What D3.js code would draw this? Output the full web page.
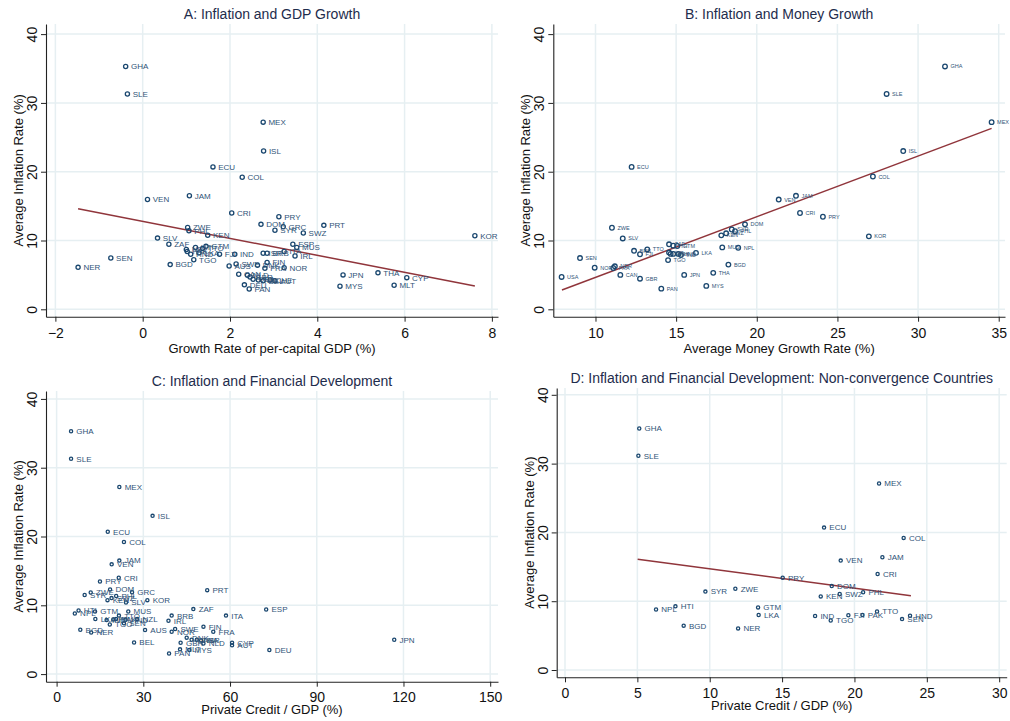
<!DOCTYPE html>
<html><head><meta charset="utf-8">
<script src="https://cdn.jsdelivr.net/npm/d3@7"></script>
<style>body{margin:0;background:#fff} svg{display:block} text{font-family:"Liberation Sans",Arial,sans-serif}</style>
</head><body><svg id="c" width="1010" height="721"></svg>
<script>
// ---------- data ----------
const inflationTicks = [0, 10, 20, 30, 40];
const gdpTicks = [-2, 0, 2, 4, 6, 8];
const moneyTicks = [10, 15, 20, 25, 30, 35];
const creditTicks = [0, 30, 60, 90, 120, 150];
const creditNcTicks = [0, 5, 10, 15, 20, 25, 30];

// [country, x value, average inflation %]
const gdpPoints = [
  ["GHA",-0.39,35.3],["SLE",-0.35,31.3],["MEX",2.76,27.2],["ISL",2.77,23.0],["ECU",1.61,20.7],
  ["COL",2.28,19.2],["JAM",1.07,16.5],["VEN",0.11,15.95],["CRI",2.04,14.0],["PRY",3.12,13.45],
  ["DOM",2.71,12.35],["GRC",3.22,12.0],["PRT",4.15,12.2],["SYR",3.03,11.5],["SWZ",3.68,11.1],
  ["ZWE",1.03,11.9],["PHL",1.06,11.4],["KEN",1.49,10.75],["KOR",7.61,10.7],["SLV",0.34,10.35],
  ["ZAF",0.6,9.45],["ESP",3.44,9.45],["MUS",3.53,9.0],["GTM",1.45,9.15],["HTI",1.21,9.0],
  ["TTO",1.37,8.85],["NPL",1.0,8.7],["PAK",1.02,8.4],["LKA",1.29,8.2],["HND",1.1,8.0],
  ["FJI",1.76,8.0],["IND",2.11,8.0],["TGO",1.17,7.2],["BGD",0.63,6.5],["SEN",-0.73,7.45],
  ["NER",-1.48,6.1],["ISR",2.76,8.15],["BRB",2.85,8.15],["ITA",3.24,8.4],["IRL",3.49,7.75],
  ["FIN",2.85,6.8],["FRA",2.8,5.95],["NOR",3.24,6.05],["DNK",2.63,6.4],["AUS",1.98,6.3],
  ["SWE",2.14,6.6],["CAN",2.2,5.1],["NLD",2.4,4.95],["GBR",2.46,4.7],["USA",2.53,4.35],
  ["NZL",2.65,4.25],["BEL",2.76,4.15],["CHE",2.92,4.25],["AUT",3.03,4.15],["DEU",2.33,3.55],
  ["PAN",2.44,2.95],["JPN",4.59,5.0],["THA",5.39,5.3],["CYP",6.05,4.6],["MLT",5.76,3.5],
  ["MYS",4.52,3.35]
];
const moneyPoints = [
  ["GHA",31.67,35.3],["SLE",28.05,31.3],["MEX",34.56,27.2],["ISL",29.08,23.0],["ECU",12.24,20.7],
  ["COL",27.2,19.3],["JAM",22.43,16.5],["VEN",21.36,15.95],["CRI",22.68,14.0],["PRY",24.1,13.45],
  ["KOR",26.95,10.6],["DOM",19.27,12.35],["SYR",18.45,11.6],["PHL",18.65,11.35],["SWZ",18.1,11.05],
  ["KEN",17.8,10.75],["ZWE",11.02,11.85],["SLV",11.69,10.3],["ZAF",14.56,9.45],["HTI",14.82,9.25],
  ["GTM",15.07,9.2],["MUS",17.86,9.0],["NPL",18.85,8.95],["BRB",12.39,8.5],["FJI",12.76,8.0],
  ["TTO",13.21,8.7],["ISR",14.56,8.25],["IRL",14.66,8.05],["PAK",14.82,8.05],["HND",15.14,8.05],
  ["IND",15.3,7.9],["LKA",16.23,8.2],["TGO",14.5,7.15],["SEN",9.04,7.45],["NOR",9.95,6.05],
  ["NER",11.2,6.25],["FRA",11.1,6.0],["CAN",11.54,5.0],["GBR",12.76,4.45],["USA",7.9,4.7],
  ["PAN",14.08,3.0],["JPN",15.5,5.0],["THA",17.3,5.3],["MYS",16.87,3.4],["BGD",18.24,6.5]
];
const creditPoints = [
  ["GHA",5.0,35.3],["SLE",5.0,31.3],["MEX",21.7,27.2],["ISL",33.2,23.0],["ECU",17.7,20.7],
  ["COL",23.3,19.2],["JAM",21.7,16.5],["VEN",19.05,15.95],["CRI",21.5,14.0],["PRY",15.0,13.45],
  ["DOM",18.5,12.3],["GRC",26.1,11.9],["SYR",9.7,11.5],["ZWE",11.8,11.85],["PHL",20.6,11.35],
  ["KEN",17.6,10.75],["SWZ",19.0,11.05],["SLV",24.0,10.4],["KOR",31.4,10.75],["PRT",52.1,12.2],
  ["ZAF",47.3,9.45],["ESP",72.5,9.4],["ITA",58.6,8.5],["BRB",39.8,8.5],["IRL",38.7,7.75],
  ["NPL",6.3,8.8],["HTI",7.6,9.25],["GTM",13.3,9.1],["LKA",13.4,8.0],["MUS",24.8,9.1],
  ["TTO",21.56,8.5],["IND",17.3,7.85],["FJI",19.6,7.95],["PAK",20.55,8.0],["HND",23.8,7.9],
  ["NZL",27.9,8.0],["TGO",18.4,7.2],["SEN",23.3,7.4],["BGD",8.2,6.45],["NER",11.96,6.05],
  ["AUS",30.6,6.4],["SWE",41.0,6.55],["NOR",39.8,6.15],["FIN",50.8,6.9],["FRA",54.2,6.15],
  ["DNK",45.0,5.3],["CAN",46.7,5.0],["THA",48.5,5.0],["ISR",50.0,4.9],["GBR",42.9,4.55],
  ["NLD",50.8,4.45],["CYP",60.7,4.55],["AUT",60.7,4.2],["BEL",26.8,4.6],["MLT",42.7,3.6],
  ["MYS",45.9,3.5],["PAN",38.9,3.0],["DEU",73.6,3.5],["JPN",116.8,5.0]
];
const creditNcPoints = [
  ["GHA",5.13,35.1],["SLE",5.07,31.15],["MEX",21.7,27.1],["ECU",17.9,20.7],["COL",23.4,19.2],
  ["JAM",21.93,16.4],["VEN",19.05,15.9],["CRI",21.6,13.95],["PRY",15.04,13.4],["DOM",18.43,12.2],
  ["SWZ",18.98,11.05],["KEN",17.67,10.7],["PHL",20.6,11.3],["SYR",9.7,11.4],["ZWE",11.77,11.8],
  ["NPL",6.29,8.8],["HTI",7.63,9.25],["GTM",13.34,9.1],["LKA",13.38,8.0],["IND",17.28,7.85],
  ["FJI",19.58,7.95],["PAK",20.55,8.0],["TTO",21.56,8.5],["HND",23.84,7.9],["SEN",23.29,7.4],
  ["TGO",18.36,7.2],["BGD",8.2,6.45],["NER",11.96,6.05]
];
// fitted regression lines: [[x0,y0],[x1,y1]]
const gdpFit = [[-1.48,14.6],[7.61,3.4]];
const moneyFit = [[7.92,2.8],[34.56,26.3]];
const creditNcFit = [[5.02,16.1],[23.9,10.8]];

// ---------- drawing ----------
const svg = d3.select("#c");
const NAVY = "#1a476f", LABEL = "#2f5377", GRID = "#e6eff2", MAROON = "#90353b", TITLE = "#1e2c4c";

const panels = [
  {title:"A: Inflation and GDP Growth", xTitle:"Growth Rate of per-capital GDP (%)",
   pts:gdpPoints, fit:gdpFit, xTicks:gdpTicks, xDom:[-2.215,8.14], yDom:[-1.076,41.47],
   box:[46,498,24,316.7], r:2.1, lab:8, dx:5.3, tickOff:21, titleOff:36},
  {title:"B: Inflation and Money Growth", xTitle:"Average Money Growth Rate (%)",
   pts:moneyPoints, fit:moneyFit, xTicks:moneyTicks, xDom:[7.384,35.39], yDom:[-1.076,41.47],
   box:[553.3,1005,24,316.7], r:2.3, lab:5.5, dx:5.5, tickOff:21, titleOff:36},
  {title:"C: Inflation and Financial Development", xTitle:"Private Credit / GDP (%)",
   pts:creditPoints, fit:null, xTicks:creditTicks, xDom:[-3.668,152.7], yDom:[-1.105,41.15],
   box:[46,498,391,681.7], r:1.6, lab:8, dx:5.3, tickOff:20, titleOff:32},
  {title:"D: Inflation and Financial Development: Non-convergence Countries", xTitle:"Private Credit / GDP (%)",
   pts:creditNcPoints, fit:creditNcFit, xTicks:creditNcTicks, xDom:[-0.574,30.52], yDom:[-1.06,40.99],
   box:[556.7,1006.7,388,677.3], r:1.6, lab:8, dx:5.3, tickOff:21, titleOff:33}
];

panels.forEach(p => {
  const [L,R,T,B] = p.box;
  const x = d3.scaleLinear().domain(p.xDom).range([L,R]);
  const y = d3.scaleLinear().domain(p.yDom).range([B,T]);
  const g = svg.append("g");

  // grid
  g.append("g").selectAll("line").data(inflationTicks).join("line")
    .attr("x1",L).attr("x2",R).attr("y1",d=>y(d)).attr("y2",d=>y(d))
    .attr("stroke",GRID).attr("stroke-width",1.5);
  g.append("g").selectAll("line").data(p.xTicks).join("line")
    .attr("x1",d=>x(d)).attr("x2",d=>x(d)).attr("y1",T).attr("y2",B)
    .attr("stroke",GRID).attr("stroke-width",1.5);

  // axes
  const xa = g.append("g").attr("transform",`translate(0,${B})`)
    .call(d3.axisBottom(x).tickValues(p.xTicks).tickSize(5).tickSizeOuter(0).tickFormat(d3.format("d")));
  const ya = g.append("g").attr("transform",`translate(${L},0)`)
    .call(d3.axisLeft(y).tickValues(inflationTicks).tickSize(5).tickSizeOuter(0).tickFormat(d3.format("d")));
  [xa,ya].forEach(a=>{
    a.select(".domain").attr("stroke","#222").attr("stroke-width",1.1);
    a.selectAll(".tick line").attr("stroke","#222").attr("stroke-width",1);
    a.selectAll(".tick text").attr("font-size",14).attr("fill","#111")
      .attr("font-family",'"Liberation Sans",Arial,sans-serif');
  });
  xa.selectAll(".tick text").attr("y",null).attr("dy",null).attr("transform",null)
    .attr("y",p.tickOff);
  ya.selectAll(".tick text").attr("x",null).attr("dy",null)
    .attr("text-anchor","middle").attr("transform","translate(-9,0) rotate(-90)").attr("x",0).attr("y",0);

  // regression line
  if (p.fit) {
    g.append("path").datum(p.fit)
      .attr("d", d3.line().x(d=>x(d[0])).y(d=>y(d[1])))
      .attr("stroke",MAROON).attr("stroke-width",1.5).attr("fill","none");
  }

  // points
  const pg = g.append("g");
  pg.selectAll("circle").data(p.pts).join("circle")
    .attr("cx",d=>x(d[1])).attr("cy",d=>y(d[2])).attr("r",p.r)
    .attr("fill","none").attr("stroke",NAVY).attr("stroke-width",1.3);
  pg.selectAll("text").data(p.pts).join("text")
    .attr("x",d=>x(d[1])+p.dx).attr("y",d=>y(d[2])).attr("dy","0.36em")
    .attr("font-size",p.lab).attr("fill",LABEL).text(d=>d[0]);

  // titles
  g.append("text").attr("x",(L+R)/2).attr("y",T-5).attr("text-anchor","middle")
    .attr("font-size",14).attr("fill",TITLE).text(p.title);
  g.append("text").attr("x",(L+R)/2).attr("y",B+p.titleOff).attr("text-anchor","middle")
    .attr("font-size",13).attr("fill","#111").text(p.xTitle);
  g.append("text").attr("transform",`translate(${L-23},${(T+B)/2}) rotate(-90)`)
    .attr("text-anchor","middle").attr("font-size",13).attr("fill","#111").text("Average Inflation Rate (%)");
});
</script></body></html>
